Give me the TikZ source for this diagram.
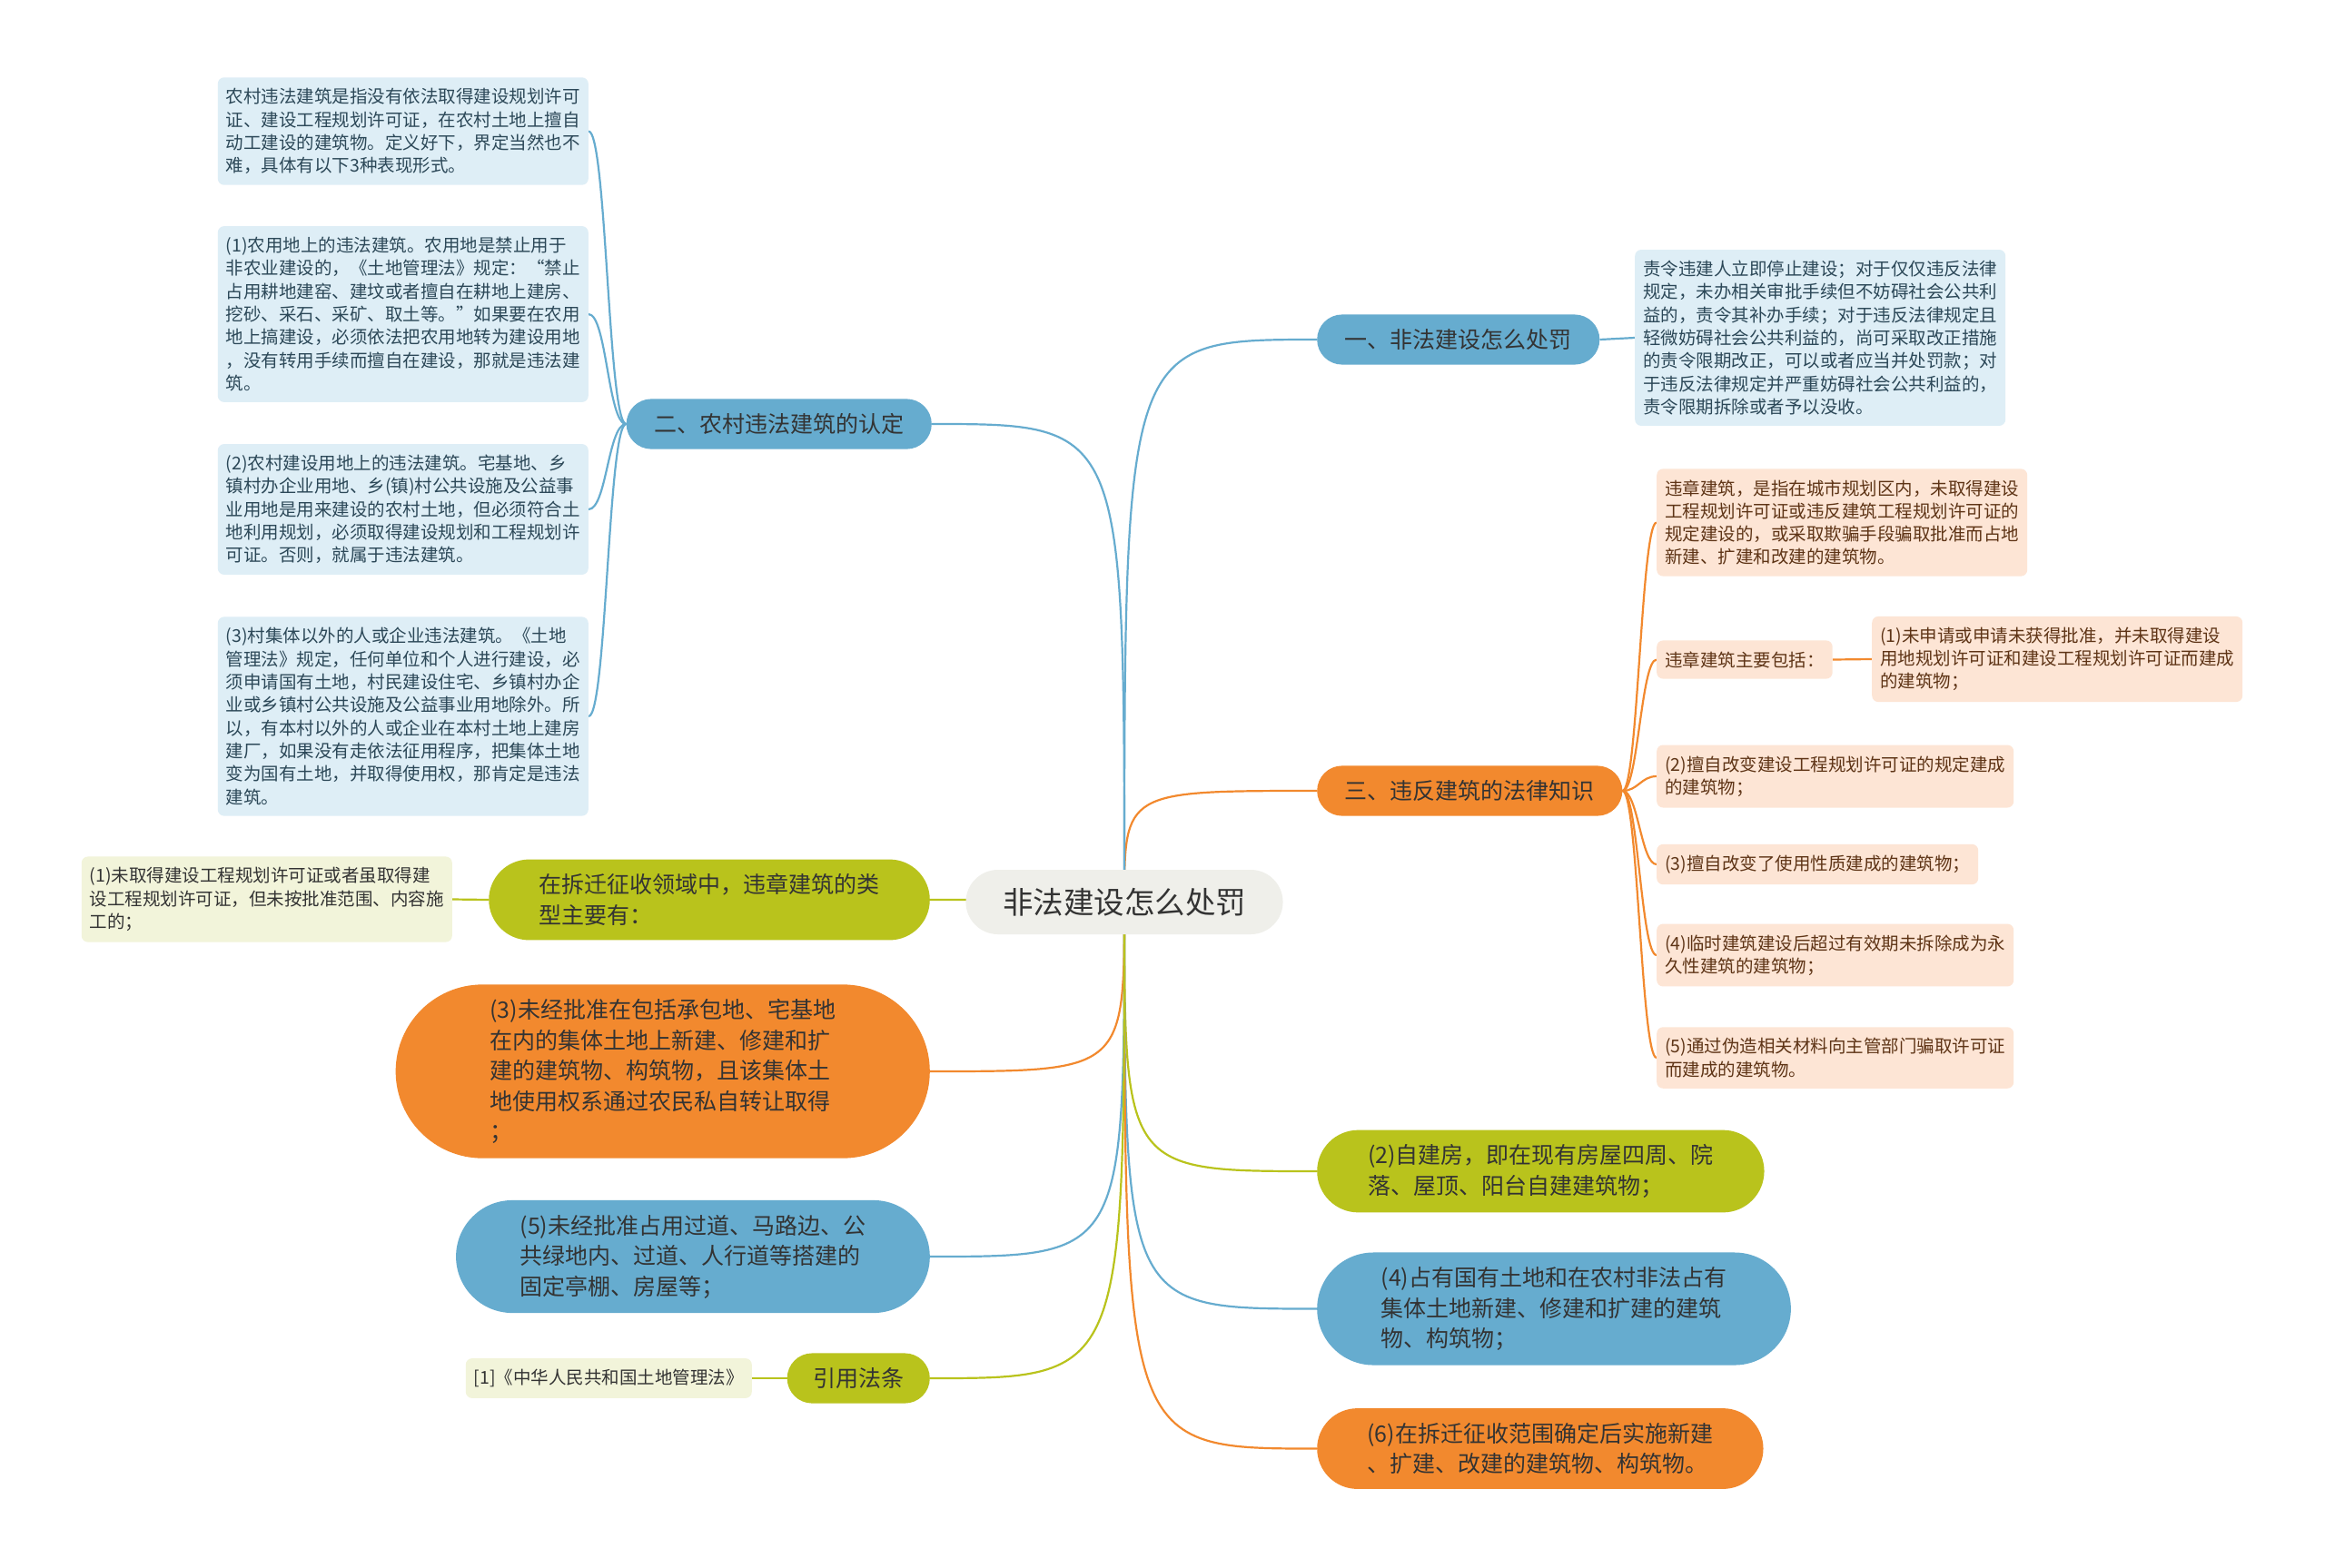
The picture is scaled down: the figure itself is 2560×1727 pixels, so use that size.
\documentclass[tikz,border=0pt]{standalone}
\usepackage{fontspec}
\setmainfont{Noto Sans CJK SC}
\usetikzlibrary{shapes.misc,backgrounds}
\definecolor{stblue}{RGB}{102,172,207}
\definecolor{storange}{RGB}{242,137,46}
\definecolor{stgreen}{RGB}{185,195,28}
\definecolor{stblueleaf}{RGB}{222,238,246}
\definecolor{storangeleaf}{RGB}{253,229,213}
\definecolor{stgreenleaf}{RGB}{242,244,218}
\definecolor{strootfill}{RGB}{239,239,234}
\definecolor{sttext}{RGB}{51,51,51}
\definecolor{stbluetext}{RGB}{44,72,88}
\definecolor{storangetext}{RGB}{94,52,22}
\tikzset{
  pill/.style={rounded rectangle, inner xsep=28pt, inner ysep=16pt, align=left, text=sttext, font=\fontsize{25}{33.5}\selectfont},
  twoline/.style={inner xsep=45pt},
  threeline/.style={inner xsep=50pt},
  leaf/.style={rectangle, rounded corners=7pt, inner xsep=9pt, inner ysep=12pt, align=left, font=\fontsize{19.5}{25.3}\selectfont},
  blueleaf/.style={leaf, fill=stblueleaf, text=stbluetext},
  orangeleaf/.style={leaf, fill=storangeleaf, text=storangetext},
  greenleaf/.style={leaf, fill=stgreenleaf, text=sttext},
  link/.style={line width=2.2pt}
}
\begin{document}
\begin{tikzpicture}[x=1pt,y=-1pt]
  \useasboundingbox (0,0) rectangle (2560,1727);
  % centre
  \node[pill, fill=strootfill, inner xsep=37pt, inner ysep=20pt, font=\fontsize{33.5}{40}\selectfont] (root) at (1238,993.5) {非法建设怎么处罚};
  % right branches
  \node[pill, fill=stblue, anchor=west] (one) at (1450,374) {一、非法建设怎么处罚};
  \node[pill, fill=storange, anchor=west] (three) at (1450,871) {三、违反建筑的法律知识};
  \node[pill, twoline, fill=stgreen, anchor=west] (selfbuilt) at (1450,1290) {(2)自建房，即在现有房屋四周、院\\落、屋顶、阳台自建建筑物；};
  \node[pill, threeline, fill=stblue, anchor=west] (stateland) at (1450,1441.5) {(4)占有国有土地和在农村非法占有\\集体土地新建、修建和扩建的建筑\\物、构筑物；};
  \node[pill, twoline, fill=storange, anchor=west] (afterscope) at (1450,1595.5) {(6)在拆迁征收范围确定后实施新建\\、扩建、改建的建筑物、构筑物。};
  % left branches
  \node[pill, fill=stblue, anchor=east] (two) at (1026,467) {二、农村违法建筑的认定};
  \node[pill, twoline, fill=stgreen, anchor=east] (demol) at (1024,991) {在拆迁征收领域中，违章建筑的类\\型主要有：};
  \node[pill, inner xsep=61pt, fill=storange, anchor=east] (collective) at (1024,1180) {(3)未经批准在包括承包地、宅基地\\在内的集体土地上新建、修建和扩\\建的建筑物、构筑物，且该集体土\\地使用权系通过农民私自转让取得\\；};
  \node[pill, threeline, fill=stblue, anchor=east] (roadside) at (1024,1384) {(5)未经批准占用过道、马路边、公\\共绿地内、过道、人行道等搭建的\\固定亭棚、房屋等；};
  \node[pill, inner xsep=26pt, fill=stgreen, anchor=east] (cite) at (1024,1518) {引用法条};
  % leaves of one
  \node[blueleaf, anchor=west] (penalty) at (1800,372) {责令违建人立即停止建设；对于仅仅违反法律\\规定，未办相关审批手续但不妨碍社会公共利\\益的，责令其补办手续；对于违反法律规定且\\轻微妨碍社会公共利益的，尚可采取改正措施\\的责令限期改正，可以或者应当并处罚款；对\\于违反法律规定并严重妨碍社会公共利益的，\\责令限期拆除或者予以没收。};
  % leaves of three
  \node[orangeleaf, anchor=west] (law1) at (1824,575.5) {违章建筑，是指在城市规划区内，未取得建设\\工程规划许可证或违反建筑工程规划许可证的\\规定建设的，或采取欺骗手段骗取批准而占地\\新建、扩建和改建的建筑物。};
  \node[orangeleaf, anchor=west] (law2) at (1824,726.5) {违章建筑主要包括：};
  \node[orangeleaf, anchor=west] (law2a) at (2061,726) {(1)未申请或申请未获得批准，并未取得建设\\用地规划许可证和建设工程规划许可证而建成\\的建筑物；};
  \node[orangeleaf, anchor=west] (law3) at (1824,855) {(2)擅自改变建设工程规划许可证的规定建成\\的建筑物；};
  \node[orangeleaf, anchor=west] (law4) at (1824,952) {(3)擅自改变了使用性质建成的建筑物；};
  \node[orangeleaf, anchor=west] (law5) at (1824,1052) {(4)临时建筑建设后超过有效期未拆除成为永\\久性建筑的建筑物；};
  \node[orangeleaf, anchor=west] (law6) at (1824,1165) {(5)通过伪造相关材料向主管部门骗取许可证\\而建成的建筑物。};
  % leaves of two
  \node[blueleaf, anchor=east] (rural1) at (648,144.5) {农村违法建筑是指没有依法取得建设规划许可\\证、建设工程规划许可证，在农村土地上擅自\\动工建设的建筑物。定义好下，界定当然也不\\难，具体有以下3种表现形式。};
  \node[blueleaf, anchor=east] (rural2) at (648,346) {(1)农用地上的违法建筑。农用地是禁止用于\\非农业建设的，《土地管理法》规定：“禁止\\占用耕地建窑、建坟或者擅自在耕地上建房、\\挖砂、采石、采矿、取土等。”如果要在农用\\地上搞建设，必须依法把农用地转为建设用地\\，没有转用手续而擅自在建设，那就是违法建\\筑。};
  \node[blueleaf, anchor=east] (rural3) at (648,561) {(2)农村建设用地上的违法建筑。宅基地、乡\\镇村办企业用地、乡(镇)村公共设施及公益事\\业用地是用来建设的农村土地，但必须符合土\\地利用规划，必须取得建设规划和工程规划许\\可证。否则，就属于违法建筑。};
  \node[blueleaf, anchor=east] (rural4) at (648,789) {(3)村集体以外的人或企业违法建筑。《土地\\管理法》规定，任何单位和个人进行建设，必\\须申请国有土地，村民建设住宅、乡镇村办企\\业或乡镇村公共设施及公益事业用地除外。所\\以，有本村以外的人或企业在本村土地上建房\\建厂，如果没有走依法征用程序，把集体土地\\变为国有土地，并取得使用权，那肯定是违法\\建筑。};
  % other leaves
  \node[greenleaf, anchor=east] (demol1) at (498,990.5) {(1)未取得建设工程规划许可证或者虽取得建\\设工程规划许可证，但未按批准范围、内容施\\工的；};
  \node[greenleaf, anchor=east] (landlaw) at (828,1518) {[1]《中华人民共和国土地管理法》};
  % connectors
  \begin{scope}[on background layer]
    \fill[white] (0,0) rectangle (2560,1727);
    \foreach \n/\c in {one/stblue,three/storange,selfbuilt/stgreen,stateland/stblue,afterscope/storange}
      \draw[link,\c] (root.center) .. controls (root.center |- \n.west) and (root.center |- \n.west) .. (\n.west);
    \foreach \n/\c in {two/stblue,demol/stgreen,collective/storange,roadside/stblue,cite/stgreen}
      \draw[link,\c] (root.center) .. controls (root.center |- \n.east) and (root.center |- \n.east) .. (\n.east);
    \foreach \n in {rural1,rural2,rural3,rural4}
      \draw[link,stblue] (two.west) .. controls ([xshift=-20pt]two.west) and ([xshift=20pt]\n.east) .. (\n.east);
    \foreach \n in {law1,law2,law3,law4,law5,law6}
      \draw[link,storange] (three.east) .. controls ([xshift=17pt]three.east) and ([xshift=-17pt]\n.west) .. (\n.west);
    \draw[link,stblue] (one.east) -- (penalty.west);
    \draw[link,storange] (law2.east) -- (law2a.west);
    \draw[link,stgreen] (demol.west) -- (demol1.east);
    \draw[link,stgreen] (cite.west) -- (landlaw.east);
  \end{scope}
\end{tikzpicture}
\end{document}
